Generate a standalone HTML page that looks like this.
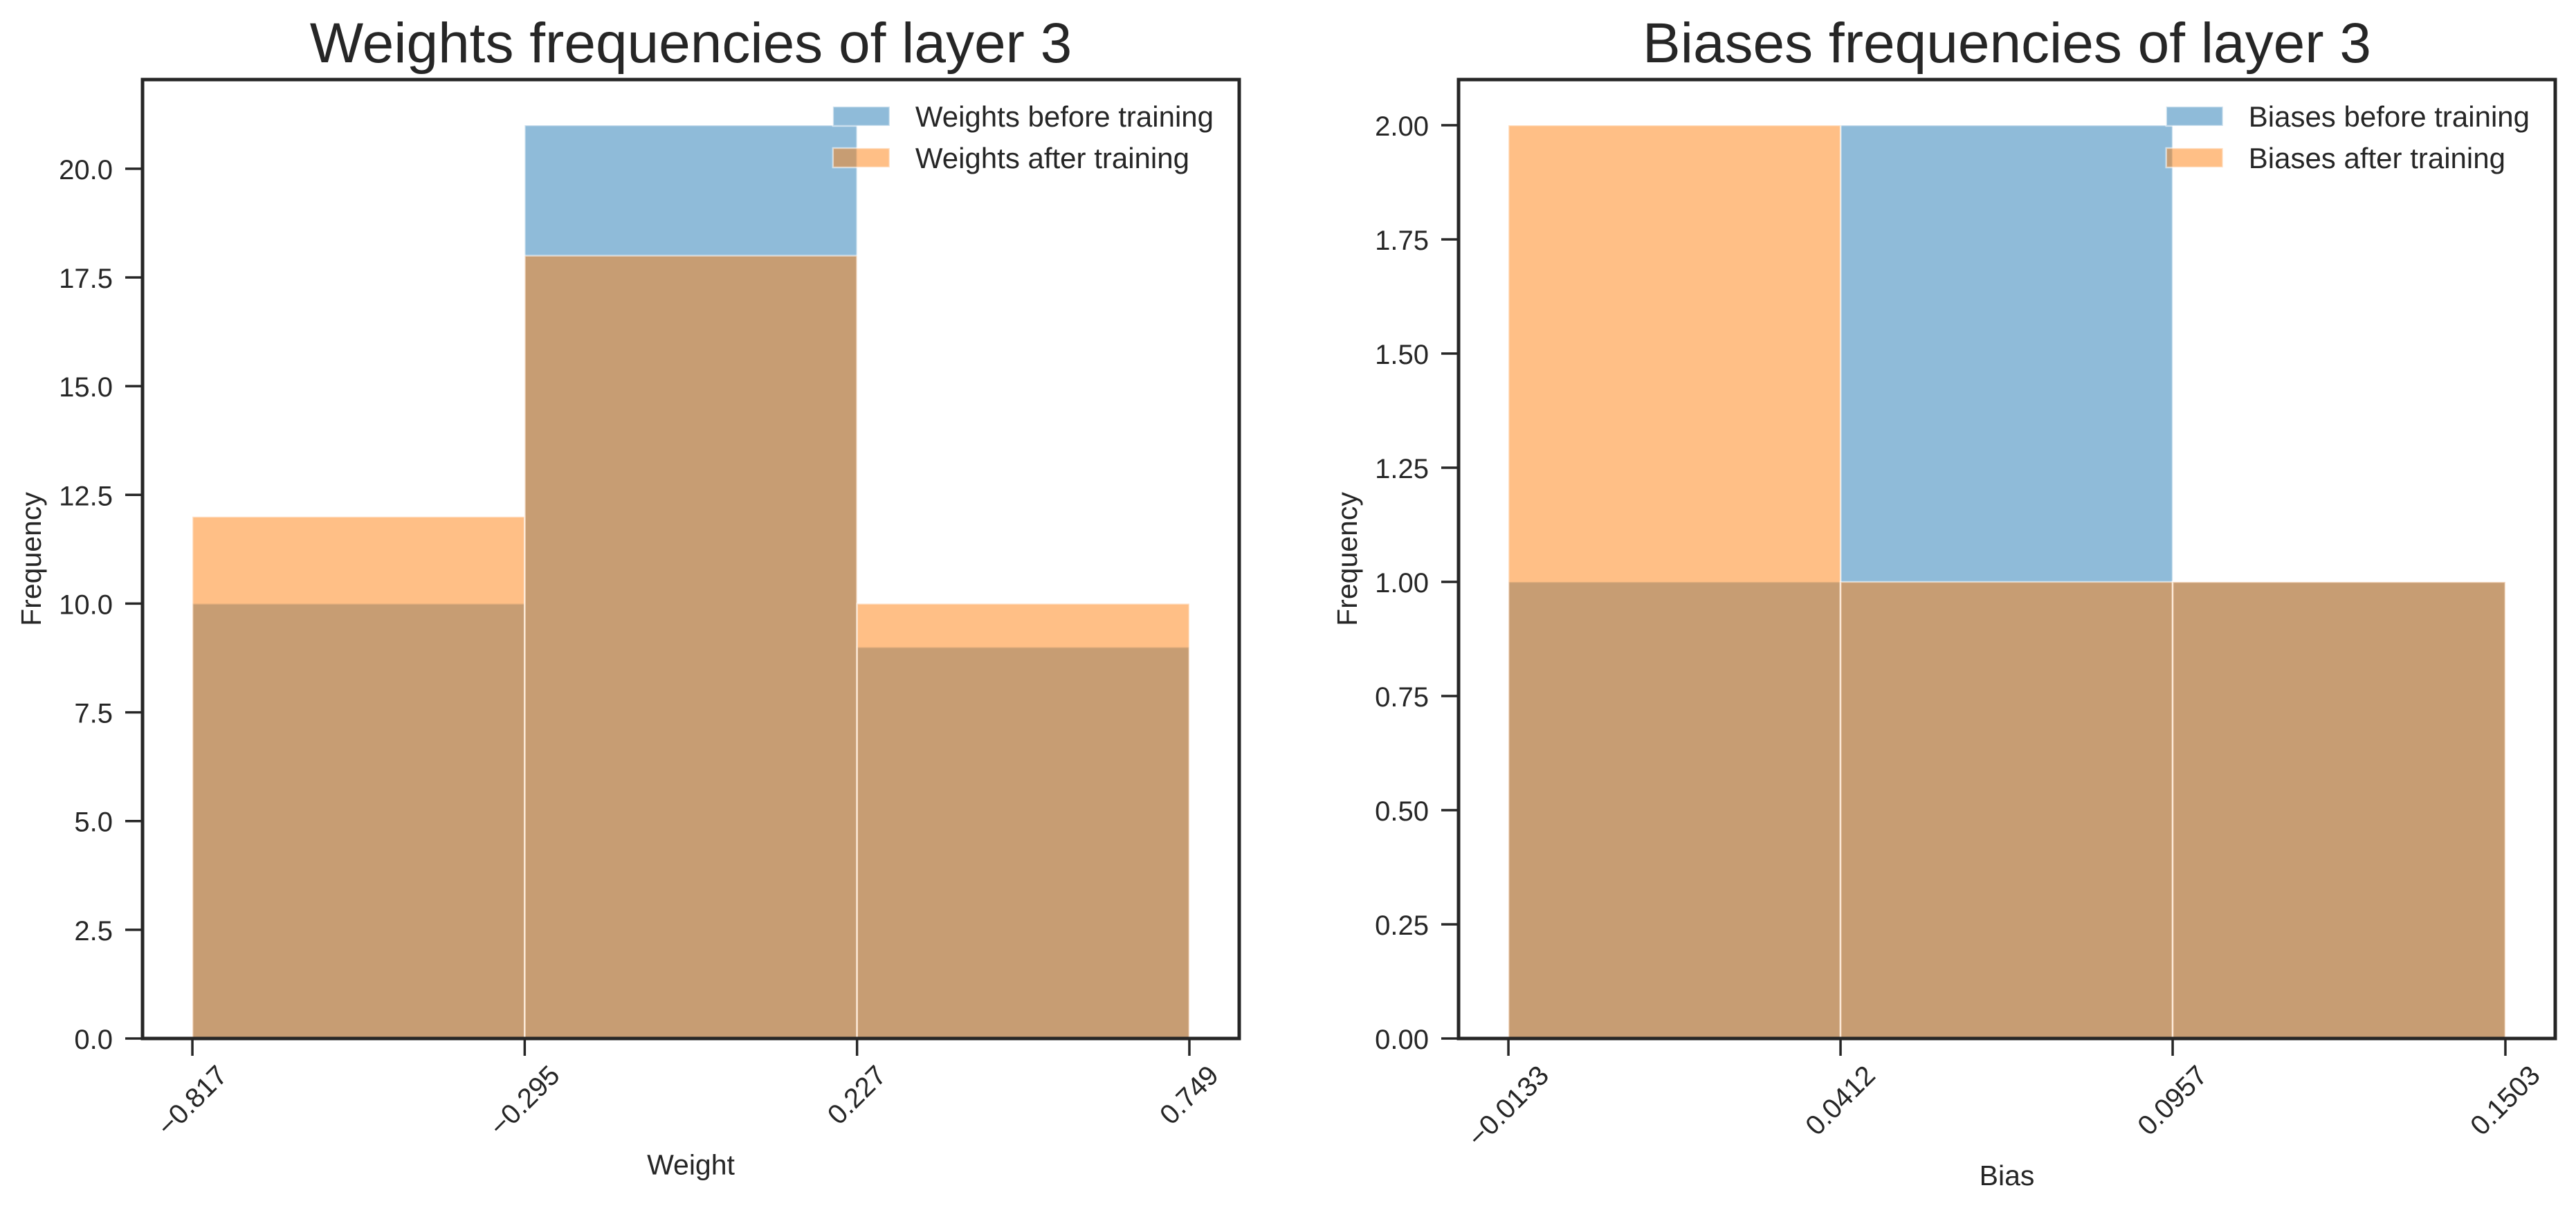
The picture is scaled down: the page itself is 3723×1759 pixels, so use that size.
<!DOCTYPE html>
<html><head><meta charset="utf-8">
<style>
html,body{margin:0;padding:0;background:#fff;}
svg{display:block;font-family:"Liberation Sans",Arial,sans-serif;}
</style></head>
<body>
<svg id="fig" width="3723" height="1759" viewBox="0 0 3723 1759" xmlns="http://www.w3.org/2000/svg"></svg>
<script>
// ---- Weights chart data ----
const weightEdges = [-0.817, -0.295, 0.227, 0.749];
const weightTickLabels = ["\u22120.817", "\u22120.295", "0.227", "0.749"];
const weightsBefore = [10, 21, 9];
const weightsAfter = [12, 18, 10];
const weightYTicks = [0, 2.5, 5, 7.5, 10, 12.5, 15, 17.5, 20];
const weightYTickLabels = ["0.0","2.5","5.0","7.5","10.0","12.5","15.0","17.5","20.0"];
// ---- Biases chart data ----
const biasEdges = [-0.0133, 0.0412, 0.0957, 0.1503];
const biasTickLabels = ["\u22120.0133", "0.0412", "0.0957", "0.1503"];
const biasesBefore = [1, 2, 1];
const biasesAfter = [2, 1, 1];
const biasYTicks = [0, 0.25, 0.5, 0.75, 1, 1.25, 1.5, 1.75, 2];
const biasYTickLabels = ["0.00","0.25","0.50","0.75","1.00","1.25","1.50","1.75","2.00"];

const NS = "http://www.w3.org/2000/svg";
const svg = document.getElementById('fig');
function mk(tag, attrs, parent) {
  const e = document.createElementNS(NS, tag);
  for (const k in attrs) e.setAttribute(k, attrs[k]);
  (parent || svg).appendChild(e);
  return e;
}

function drawChart(cfg) {
  const L = cfg.left, R = cfg.right, T = 115, B = 1501;
  const xmin = cfg.edges[0], xmax = cfg.edges[cfg.edges.length - 1];
  const pad = (xmax - xmin) * 0.05;
  const maxV = Math.max(...cfg.before, ...cfg.after);
  const ymax = maxV * 1.05;
  const xs = v => L + (v - xmin + pad) / (xmax - xmin + 2 * pad) * (R - L);
  const ys = v => B - v / ymax * (B - T);

  const g = mk('g', {});
  
  

  const series = [[cfg.before, '#1f77b4', 'before'], [cfg.after, '#ff7f0e', 'after']];
  series.forEach(([vals, col, tag]) => {
    vals.forEach((v, i) => {
      const x0 = xs(cfg.edges[i]), x1 = xs(cfg.edges[i + 1]);
      const r = mk('rect', {x: x0, y: ys(v), width: x1 - x0, height: ys(0) - ys(v),
        fill: col, 'fill-opacity': 0.5, stroke: '#ffffff', 'stroke-opacity': 0.55, 'stroke-width': 2.5}, g);
      
      
    });
  });

  const fr = mk('rect', {x: L, y: T, width: R - L, height: B - T, fill: 'none', stroke: '#262626', 'stroke-width': 5}, g);
  
  

  cfg.yticks.forEach((v, i) => {
    const y = ys(v);
    mk('line', {x1: L - 25, x2: L, y1: y, y2: y, stroke: '#262626', 'stroke-width': 3.5}, g);
    const t = mk('text', {x: L - 43, y: y + 15, 'text-anchor': 'end', 'font-size': 40, fill: '#262626'}, g);
    t.textContent = cfg.ylabels[i];
    
    
  });

  let maxBottom = 0;
  cfg.edges.forEach((v, i) => {
    const x = xs(v);
    mk('line', {x1: x, x2: x, y1: B, y2: B + 25, stroke: '#262626', 'stroke-width': 3.5}, g);
    const t = mk('text', {x: 0, y: 0, 'text-anchor': 'middle', 'font-size': 40, fill: '#262626', 'dominant-baseline': 'central'}, g);
    t.textContent = cfg.xlabels[i];
    
    
    const w = t.getComputedTextLength();
    const h = 30;
    const bh = (w + h) / Math.SQRT2;
    const cy = B + 36 + bh / 2;
    maxBottom = Math.max(maxBottom, B + 36 + bh);
    t.setAttribute('transform', 'translate(' + x + ',' + cy + ') rotate(-45)');
  });

  const xl = mk('text', {x: (L + R) / 2, y: maxBottom + 22 + 30, 'text-anchor': 'middle', 'font-size': 41, fill: '#262626'}, g);
  xl.textContent = cfg.xtitle;
  
  

  const yl = mk('text', {x: 0, y: 0, 'text-anchor': 'middle', 'font-size': 41, fill: '#262626',
    transform: 'translate(' + (L - 147) + ',' + ((T + B) / 2) + ') rotate(-90)'}, g);
  yl.textContent = 'Frequency';
  
  

  const tt = mk('text', {x: (L + R) / 2, y: 90, 'text-anchor': 'middle', 'font-size': 82, fill: '#262626'}, g);
  tt.textContent = cfg.title;
  
  

  const lg = mk('g', {}, g);
  
  
  const entries = [[cfg.legend[0], '#1f77b4', 154], [cfg.legend[1], '#ff7f0e', 214]];
  const texts = entries.map(([lab, col, y]) => {
    const t = mk('text', {x: 0, y: y + 29, 'font-size': 42, fill: '#262626'}, lg);
    t.textContent = lab;
    return t;
  });
  const tw = Math.max(...texts.map(t => t.getComputedTextLength()));
  const tx = R - 37 - tw;
  entries.forEach(([lab, col, y], i) => {
    texts[i].setAttribute('x', tx);
    const p = mk('rect', {x: tx - 119, y: y, width: 82, height: 28, fill: col, 'fill-opacity': 0.5,
      stroke: '#ffffff', 'stroke-opacity': 0.55, 'stroke-width': 2.5}, lg);
    
    
  });
}

drawChart({name: 'weights', left: 206, right: 1791, edges: weightEdges, xlabels: weightTickLabels,
  before: weightsBefore, after: weightsAfter, yticks: weightYTicks, ylabels: weightYTickLabels,
  xtitle: 'Weight', title: 'Weights frequencies of layer 3',
  legend: ['Weights before training', 'Weights after training']});
drawChart({name: 'biases', left: 2108, right: 3693, edges: biasEdges, xlabels: biasTickLabels,
  before: biasesBefore, after: biasesAfter, yticks: biasYTicks, ylabels: biasYTickLabels,
  xtitle: 'Bias', title: 'Biases frequencies of layer 3',
  legend: ['Biases before training', 'Biases after training']});
</script>
</body></html>
